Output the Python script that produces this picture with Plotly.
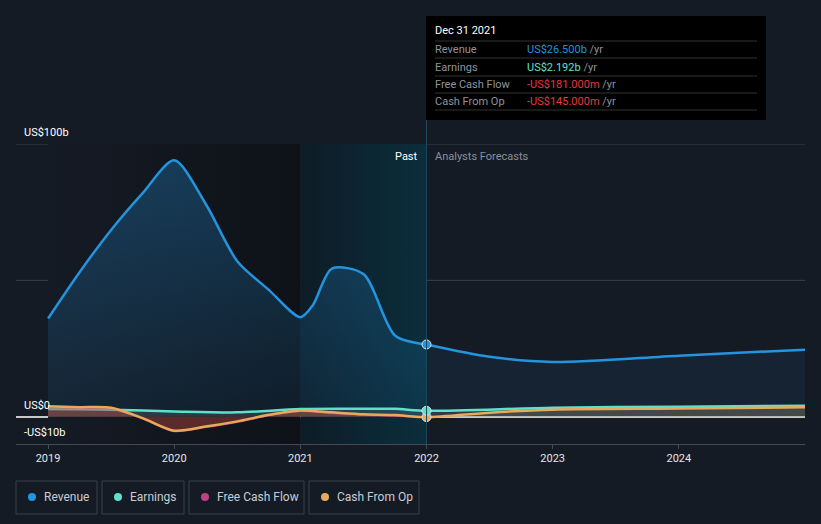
import plotly.graph_objects as go

# ---------------- data (US$ billions) ----------------
rev_past_x = [2019.0, 2019.25, 2019.5, 2019.75, 2020.0, 2020.25, 2020.5, 2020.75, 2021.0, 2021.1, 2021.25, 2021.5, 2021.75, 2022.0]
rev_past = [36.0, 53.0, 68.5, 82.0, 94.0, 78.0, 57.0, 46.5, 36.5, 41.0, 54.3, 52.3, 29.8, 26.5]
rev_fc_x = [2022.0, 2022.5, 2023.0, 2024.0, 2025.0]
rev_fc = [26.5, 22.0, 20.1, 22.4, 24.6]

earn_x = [2019.0, 2019.5, 2020.0, 2020.5, 2021.0, 2021.5, 2021.75, 2022.0, 2023.0, 2024.0, 2025.0]
earn = [2.8, 2.6, 1.95, 1.6, 2.8, 2.9, 2.9, 2.192, 3.3, 3.7, 4.0]

fcf_x = [2019.0, 2019.25, 2019.5, 2019.75, 2020.0, 2020.25, 2020.5, 2020.75, 2021.0, 2021.25, 2021.5, 2021.75, 2022.0]
fcf = [3.6, 3.3, 3.1, -0.7, -5.3, -3.8, -1.9, 0.5, 2.1, 1.4, 0.7, 0.4, -0.181]

cfo_x = [2019.0, 2019.25, 2019.5, 2019.75, 2020.0, 2020.25, 2020.5, 2020.75, 2021.0, 2021.25, 2021.5, 2021.75, 2022.0, 2022.5, 2023.0, 2024.0, 2025.0]
cfo = [3.8, 3.5, 3.3, -0.5, -5.1, -3.6, -1.7, 0.7, 2.3, 1.6, 0.9, 0.6, -0.145, 1.5, 2.6, 3.0, 3.5]

year_ticks = [2019, 2020, 2021, 2022, 2023, 2024]
year_labels = ["2019", "2020", "2021", "2022", "2023", "2024"]

C_REV = "#2394df"
C_EARN = "#5fe0cc"
C_FCF = "#c1407f"
C_CFO = "#e8a95b"
BG = "#151b25"

fig = go.Figure()

# background regions
fig.add_trace(go.Scatter(
    x=[2019.0, 2021.0, 2021.0, 2019.0, 2019.0], y=[-10, -10, 100, 100, -10],
    mode="none", fill="toself", hoverinfo="skip", showlegend=False,
    fillgradient=dict(type="horizontal", colorscale=[[0, BG], [1, "#0e1218"]])))
fig.add_trace(go.Scatter(
    x=[2021.0, 2022.0, 2022.0, 2021.0, 2021.0], y=[-10, -10, 100, 100, -10],
    mode="none", fill="toself", hoverinfo="skip", showlegend=False,
    fillgradient=dict(type="horizontal", colorscale=[[0, "#0e1c26"], [1, "#0b2e3d"]])))

# revenue
fig.add_trace(go.Scatter(
    x=rev_past_x, y=rev_past, mode="lines", line=dict(color=C_REV, width=2.5, shape="spline", smoothing=0.8),
    fill="tozeroy", hoverinfo="skip", showlegend=False,
    fillgradient=dict(type="vertical", colorscale=[[0, "rgba(35,148,223,0.08)"], [1, "rgba(35,148,223,0.30)"]])))
fig.add_trace(go.Scatter(
    x=rev_fc_x, y=rev_fc, mode="lines", line=dict(color=C_REV, width=2.5, shape="spline", smoothing=0.8),
    fill="tozeroy", fillcolor="rgba(35,148,223,0.07)", hoverinfo="skip", showlegend=False))

# earnings
fig.add_trace(go.Scatter(
    x=earn_x, y=earn, mode="lines", line=dict(color=C_EARN, width=2.5, shape="spline", smoothing=0.8),
    fill="tozeroy", fillcolor="rgba(120,130,130,0.25)", hoverinfo="skip", showlegend=False))
# free cash flow
fig.add_trace(go.Scatter(
    x=fcf_x, y=fcf, mode="lines", line=dict(color=C_FCF, width=2, shape="spline", smoothing=0.8),
    fill="tozeroy", fillcolor="rgba(170,35,50,0.35)", hoverinfo="skip", showlegend=False))
# cash from op
fig.add_trace(go.Scatter(
    x=cfo_x, y=cfo, mode="lines", line=dict(color=C_CFO, width=2.5, shape="spline", smoothing=0.8),
    fill="tozeroy", fillcolor="rgba(232,169,91,0.12)", hoverinfo="skip", showlegend=False))

# markers at Dec 31 2021
fig.add_trace(go.Scatter(
    x=[cfo_x[12], earn_x[7], rev_past_x[-1]], y=[cfo[12], earn[7], rev_past[-1]], mode="markers",
    marker=dict(size=9, color=[C_CFO, C_EARN, C_REV], line=dict(color="#d8e4ea", width=1)),
    hoverinfo="skip", showlegend=False))

L, R, T, B = 16, 16, 144, 80
W, H = 821, 524
PW, PH = W - L - R, H - T - B


def px(xp):
    return (xp - L) / PW


def py(yp):
    return (H - B - yp) / PH


shapes = []
annotations = []

# gridline at 100b and 50b
for yv in [100, 50]:
    shapes.append(dict(type="line", xref="paper", yref="y", x0=0, x1=1, y0=yv, y1=yv,
                       line=dict(color="#3a414b", width=1), layer="below"))

# vertical divider at 2022
shapes.append(dict(type="line", xref="x", yref="paper", x0=2022, x1=2022, y0=0, y1=py(120),
                   line=dict(color="#1d4a5b", width=1), layer="above"))

# tooltip
shapes.append(dict(type="rect", xref="paper", yref="paper", x0=px(426), x1=px(766), y0=py(120), y1=py(16),
                   fillcolor="#000000", line=dict(width=0), layer="above"))
for yl in [41, 58, 76, 93, 110]:
    shapes.append(dict(type="line", xref="paper", yref="paper", x0=px(435), x1=px(757), y0=py(yl), y1=py(yl),
                       line=dict(color="#333333", width=1), layer="above"))

LX = -2  # compensate for annotation padding

annotations.append(dict(xref="paper", yref="paper", x=px(435 + LX), y=py(31), xanchor="left", yanchor="middle",
                        text="Dec 31 2021", showarrow=False, font=dict(color="#ffffff", size=11)))
rows = [
    ("Revenue", "US$26.500b", C_REV, 49),
    ("Earnings", "US$2.192b", C_EARN, 67),
    ("Free Cash Flow", "-US$181.000m", "#e5393e", 85),
    ("Cash From Op", "-US$145.000m", "#e5393e", 101),
]
for lab, val, col, yy in rows:
    annotations.append(dict(xref="paper", yref="paper", x=px(435 + LX), y=py(yy), xanchor="left", yanchor="middle",
                            text=lab, showarrow=False, font=dict(color="#8e949c", size=11)))
    annotations.append(dict(xref="paper", yref="paper", x=px(527 + LX), y=py(yy), xanchor="left", yanchor="middle",
                            text=f"<span style='color:{col}'>{val}</span> /yr", showarrow=False,
                            font=dict(color="#8e949c", size=11)))

# Past / Analysts Forecasts
annotations.append(dict(xref="x", yref="paper", x=2022, y=py(156), xanchor="right", yanchor="middle", xshift=-7,
                        text="Past", showarrow=False, font=dict(color="#ffffff", size=11)))
annotations.append(dict(xref="x", yref="paper", x=2022, y=py(156), xanchor="left", yanchor="middle", xshift=6,
                        text="Analysts Forecasts", showarrow=False, font=dict(color="#8a9098", size=11)))

# y labels
for txt, yy in [("US$100b", 132), ("US$0", 405), ("-US$10b", 432)]:
    annotations.append(dict(xref="paper", yref="paper", x=px(24 + LX), y=py(yy), xanchor="left", yanchor="middle",
                            text=txt, showarrow=False, font=dict(color="#ffffff", size=11)))

# custom legend
legend_items = [("Revenue", C_REV, 16, 97), ("Earnings", C_EARN, 102, 184),
                ("Free Cash Flow", C_FCF, 189, 304), ("Cash From Op", C_CFO, 309, 419)]
for name, col, x0, x1 in legend_items:
    shapes.append(dict(type="rect", xref="paper", yref="paper", x0=px(x0), x1=px(x1), y0=py(514), y1=py(481),
                       fillcolor="rgba(0,0,0,0)", line=dict(color="#3a414b", width=1)))
    shapes.append(dict(type="circle", xref="paper", yref="paper", xsizemode="pixel", ysizemode="pixel",
                       xanchor=px(x0 + 16), yanchor=py(497), x0=-4, x1=4, y0=-4, y1=4,
                       fillcolor=col, line=dict(width=0)))
    annotations.append(dict(xref="paper", yref="paper", x=px(x0 + 28 + LX), y=py(497), xanchor="left", yanchor="middle",
                            text=name, showarrow=False, font=dict(color="#c8ccd2", size=12)))

fig.update_layout(
    width=W, height=H,
    margin=dict(l=L, r=R, t=T, b=B),
    paper_bgcolor=BG, plot_bgcolor=BG,
    font=dict(family="Roboto, 'Open Sans', sans-serif", color="#ffffff"),
    showlegend=False,
    shapes=shapes, annotations=annotations,
    xaxis=dict(range=[2018.746, 2025.0], tickvals=year_ticks, ticktext=year_labels,
               showgrid=False, zeroline=False, showline=True, linecolor="#444b55", linewidth=1,
               ticks="outside", ticklen=4, tickcolor="#444b55",
               tickfont=dict(color="#e6e6e6", size=11), fixedrange=True),
    yaxis=dict(range=[-10, 100], showticklabels=False, showgrid=False,
               zeroline=True, zerolinecolor="#c8c8c8", zerolinewidth=1.5, fixedrange=True),
    hovermode=False,
)

fig.write_html(
    "out.html",
    config={"displayModeBar": False},
    post_script="document.body.style.margin='0';document.body.style.padding='0';"
                "document.body.style.overflow='hidden';document.body.style.background='#151b25';",
)
